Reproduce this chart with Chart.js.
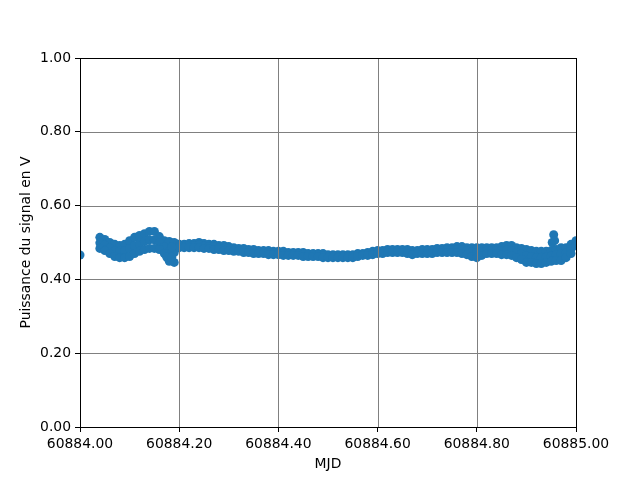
<!DOCTYPE html>
<html lang="fr">
<head>
<meta charset="utf-8">
<script src="https://cdn.jsdelivr.net/npm/chart.js@4/dist/chart.umd.min.js"></script>
<style>
  body { margin: 0; background: #fff; }
</style>
</head>
<body>
<canvas id="graphique" width="640" height="480"></canvas>
<script>
// Origine des dates (MJD)
const mjdOrigine = 60884;

// Décalage en jours depuis 60884.00, un pas de 0.01 j
const mjdDecalage = [
  0.04, 0.05, 0.06, 0.07, 0.08, 0.09, 0.10, 0.11, 0.12, 0.13,
  0.14, 0.15, 0.16, 0.17, 0.18, 0.19, 0.20, 0.21, 0.22, 0.23,
  0.24, 0.25, 0.26, 0.27, 0.28, 0.29, 0.30, 0.31, 0.32, 0.33,
  0.34, 0.35, 0.36, 0.37, 0.38, 0.39, 0.40, 0.41, 0.42, 0.43,
  0.44, 0.45, 0.46, 0.47, 0.48, 0.49, 0.50, 0.51, 0.52, 0.53,
  0.54, 0.55, 0.56, 0.57, 0.58, 0.59, 0.60, 0.61, 0.62, 0.63,
  0.64, 0.65, 0.66, 0.67, 0.68, 0.69, 0.70, 0.71, 0.72, 0.73,
  0.74, 0.75, 0.76, 0.77, 0.78, 0.79, 0.80, 0.81, 0.82, 0.83,
  0.84, 0.85, 0.86, 0.87, 0.88, 0.89, 0.90, 0.91, 0.92, 0.93,
  0.94, 0.95, 0.96, 0.97, 0.98, 0.99, 1.00
];

// Puissance (V) : mesures hautes, médianes et basses à chaque date
const puissanceHaut = [
  0.514, 0.508, 0.500, 0.495, 0.492, 0.495, 0.505, 0.514, 0.519, 0.524,
  0.530, 0.530, 0.516, 0.505, 0.503, 0.500, 0.495, 0.495, 0.497, 0.497,
  0.500, 0.497, 0.495, 0.495, 0.492, 0.492, 0.489, 0.486, 0.484, 0.484,
  0.481, 0.481, 0.478, 0.478, 0.478, 0.476, 0.476, 0.476, 0.473, 0.473,
  0.473, 0.473, 0.470, 0.470, 0.470, 0.470, 0.467, 0.467, 0.467, 0.467,
  0.467, 0.467, 0.470, 0.470, 0.473, 0.476, 0.478, 0.478, 0.481, 0.481,
  0.481, 0.481, 0.481, 0.478, 0.478, 0.481, 0.481, 0.481, 0.484, 0.484,
  0.486, 0.486, 0.489, 0.489, 0.486, 0.486, 0.486, 0.486, 0.486, 0.486,
  0.486, 0.489, 0.492, 0.492, 0.486, 0.484, 0.481, 0.478, 0.476, 0.476,
  0.476, 0.478, 0.481, 0.486, 0.486, 0.495, 0.505
];

const puissanceMilieu = [
  0.499, 0.493, 0.485, 0.478, 0.476, 0.477, 0.484, 0.492, 0.497, 0.503,
  0.507, 0.507, 0.499, 0.488, 0.476, 0.473, 0.490, 0.490, 0.492, 0.492,
  0.493, 0.490, 0.489, 0.488, 0.486, 0.485, 0.484, 0.481, 0.480, 0.478,
  0.477, 0.476, 0.474, 0.474, 0.473, 0.471, 0.471, 0.470, 0.469, 0.469,
  0.469, 0.468, 0.466, 0.466, 0.466, 0.465, 0.463, 0.463, 0.463, 0.463,
  0.463, 0.463, 0.466, 0.467, 0.469, 0.471, 0.474, 0.474, 0.477, 0.477,
  0.477, 0.477, 0.476, 0.473, 0.474, 0.476, 0.476, 0.476, 0.478, 0.478,
  0.480, 0.480, 0.481, 0.480, 0.477, 0.474, 0.473, 0.475, 0.478, 0.478,
  0.478, 0.478, 0.480, 0.478, 0.473, 0.469, 0.464, 0.462, 0.459, 0.459,
  0.461, 0.463, 0.466, 0.469, 0.473, 0.482, 0.498
];

const puissanceBas = [
  0.484, 0.478, 0.470, 0.462, 0.459, 0.459, 0.462, 0.470, 0.476, 0.481,
  0.484, 0.484, 0.481, 0.470, 0.449, 0.446, 0.486, 0.486, 0.486, 0.486,
  0.486, 0.484, 0.484, 0.481, 0.481, 0.478, 0.478, 0.476, 0.476, 0.473,
  0.473, 0.470, 0.470, 0.470, 0.467, 0.467, 0.467, 0.465, 0.465, 0.465,
  0.465, 0.462, 0.462, 0.462, 0.462, 0.459, 0.459, 0.459, 0.459, 0.459,
  0.459, 0.459, 0.462, 0.465, 0.465, 0.467, 0.470, 0.470, 0.473, 0.473,
  0.473, 0.473, 0.470, 0.467, 0.470, 0.470, 0.470, 0.470, 0.473, 0.473,
  0.473, 0.473, 0.473, 0.470, 0.467, 0.462, 0.459, 0.465, 0.470, 0.470,
  0.470, 0.467, 0.467, 0.465, 0.459, 0.454, 0.446, 0.446, 0.443, 0.443,
  0.446, 0.449, 0.451, 0.451, 0.459, 0.470, 0.492
];

// Points isolés : premier point, creux vers 0.18 et pic vers 0.955
const mjdIsoles = [0.000, 0.175, 0.185, 0.185, 0.952, 0.955, 0.957];
const puissanceIsoles = [0.466, 0.460, 0.488, 0.460, 0.500, 0.521, 0.505];

const ticksX = [60884.0, 60884.2, 60884.4, 60884.6, 60884.8, 60885.0];
const ticksY = [0.0, 0.2, 0.4, 0.6, 0.8, 1.0];

const points = [];
[puissanceHaut, puissanceMilieu, puissanceBas].forEach(serie => {
  mjdDecalage.forEach((d, i) => points.push({ x: mjdOrigine + d, y: serie[i] }));
});
mjdIsoles.forEach((d, i) => points.push({ x: mjdOrigine + d, y: puissanceIsoles[i] }));

// grille grise par-dessus les points + cadre noir (comme matplotlib)
const grilleDessus = {
  id: "grilleDessus",
  afterDatasetsDraw(chart) {
    const { ctx, chartArea: a, scales } = chart;
    ctx.save();
    ctx.strokeStyle = "#808080";
    ctx.lineWidth = 1;
    ctx.beginPath();
    ticksX.forEach(v => {
      const px = Math.round(scales.x.getPixelForValue(v)) + 0.5;
      ctx.moveTo(px, a.top);
      ctx.lineTo(px, a.bottom);
    });
    ticksY.forEach(v => {
      const py = Math.round(scales.y.getPixelForValue(v)) + 0.5;
      ctx.moveTo(a.left, py);
      ctx.lineTo(a.right, py);
    });
    ctx.stroke();
    ctx.strokeStyle = "#000";
    ctx.strokeRect(Math.round(a.left) + 0.5, Math.round(a.top) + 0.5,
      Math.round(a.right - a.left), Math.round(a.bottom - a.top));
    ctx.restore();
  }
};

Chart.defaults.font.family = "'DejaVu Sans', sans-serif";
Chart.defaults.font.size = 13.9;
Chart.defaults.color = "#000";

new Chart(document.getElementById("graphique"), {
  type: "scatter",
  data: {
    datasets: [{
      data: points,
      pointBackgroundColor: "#1f77b4",
      pointBorderColor: "#1f77b4",
      pointBorderWidth: 0,
      pointRadius: 4.5,
      pointHoverRadius: 4.5,
      clip: 0
    }]
  },
  options: {
    responsive: false,
    animation: false,
    devicePixelRatio: 1,
    layout: { padding: { left: 0, right: 64, top: 58, bottom: 0 } },
    plugins: { legend: { display: false }, tooltip: { enabled: false } },
    scales: {
      x: {
        type: "linear",
        min: 60884,
        max: 60885,
        afterBuildTicks: s => { s.ticks = ticksX.map(v => ({ value: v })); },
        afterFit: s => { s.height = 53; },
        ticks: { callback: v => v.toFixed(2), padding: 4, maxRotation: 0, autoSkip: false },
        grid: { drawOnChartArea: false, drawTicks: true, tickLength: 5, tickColor: "#000", color: "#000" },
        border: { display: false },
        title: { display: true, text: "MJD", padding: { top: 0, bottom: 7 } }
      },
      y: {
        type: "linear",
        min: 0,
        max: 1,
        afterBuildTicks: s => { s.ticks = ticksY.map(v => ({ value: v })); },
        afterFit: s => { s.width = 80; },
        ticks: { callback: v => v.toFixed(2), padding: 4, autoSkip: false },
        grid: { drawOnChartArea: false, drawTicks: true, tickLength: 5, tickColor: "#000", color: "#000" },
        border: { display: false },
        title: { display: true, text: "Puissance du signal en V", padding: { top: 18, bottom: 0 } }
      }
    }
  },
  plugins: [grilleDessus]
});
</script>
</body>
</html>
